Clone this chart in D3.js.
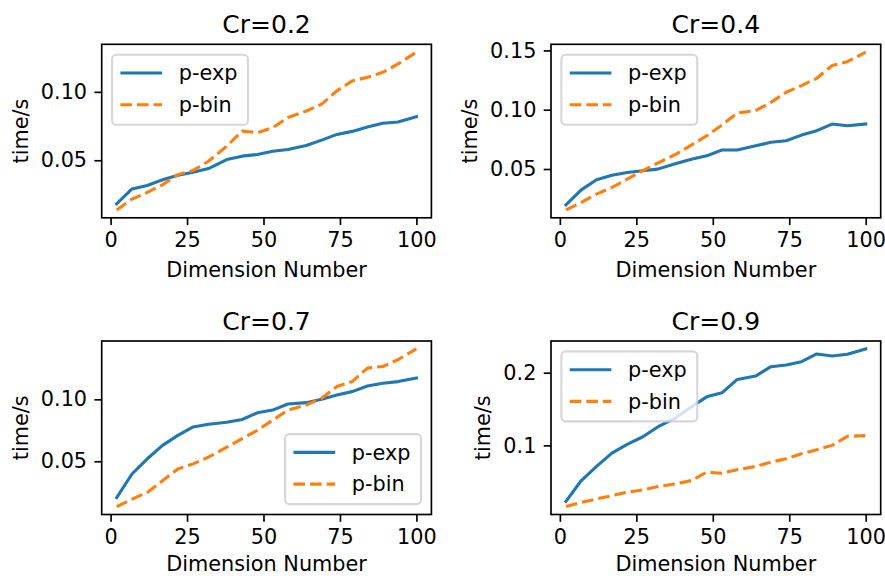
<!DOCTYPE html>
<html>
<head>
<meta charset="utf-8">
<script src="https://cdn.jsdelivr.net/npm/d3@7"></script>
<style>
body { margin: 0; background: #fff; }
text { font-family: "DejaVu Sans", sans-serif; fill: #000; }
</style>
</head>
<body>
<svg id="chart" width="885" height="576"></svg>
<script>
// dimension numbers along x
const dims = [2, 7, 12, 17, 22, 27, 32, 38, 43, 48, 53, 58, 64, 69, 74, 79, 84, 89, 94, 100];

// p-exp times per Cr
const expCr02 = [0.0182, 0.0290, 0.0316, 0.0358, 0.0390, 0.0412, 0.0439, 0.0505, 0.0530, 0.0542,
                 0.0566, 0.0579, 0.0608, 0.0647, 0.0689, 0.0711, 0.0743, 0.0770, 0.0780, 0.0819];
const expCr04 = [0.0198, 0.0324, 0.0409, 0.0448, 0.0471, 0.0485, 0.0499, 0.0547, 0.0583, 0.0611,
                 0.0660, 0.0660, 0.0696, 0.0725, 0.0738, 0.0786, 0.0823, 0.0879, 0.0865, 0.0879];
const expCr07 = [0.0207, 0.0397, 0.0520, 0.0628, 0.0709, 0.0777, 0.0799, 0.0815, 0.0837, 0.0891,
                 0.0913, 0.0962, 0.0973, 0.1000, 0.1035, 0.1062, 0.1108, 0.1130, 0.1143, 0.1171];
const expCr09 = [0.0230, 0.0516, 0.0710, 0.0893, 0.1014, 0.1115, 0.1253, 0.1383, 0.1530, 0.1668,
                 0.1723, 0.1908, 0.1954, 0.2083, 0.2106, 0.2152, 0.2258, 0.2231, 0.2254, 0.2328];

// p-bin times per Cr
const binCr02 = [0.0137, 0.0216, 0.0265, 0.0321, 0.0395, 0.0426, 0.0493, 0.0603, 0.0713, 0.0701,
                 0.0738, 0.0812, 0.0860, 0.0910, 0.1007, 0.1080, 0.1106, 0.1143, 0.1204, 0.1290];
const binCr04 = [0.0155, 0.0218, 0.0288, 0.0344, 0.0415, 0.0485, 0.0550, 0.0626, 0.0702, 0.0780,
                 0.0871, 0.0972, 0.0992, 0.1062, 0.1147, 0.1203, 0.1265, 0.1372, 0.1405, 0.1485];
const binCr07 = [0.0134, 0.0194, 0.0248, 0.0343, 0.0438, 0.0479, 0.0533, 0.0614, 0.0682, 0.0750,
                 0.0831, 0.0913, 0.0954, 0.1008, 0.1103, 0.1143, 0.1252, 0.1265, 0.1320, 0.1407];
const binCr09 = [0.0157, 0.0216, 0.0263, 0.0308, 0.0354, 0.0387, 0.0433, 0.0470, 0.0516, 0.0631,
                 0.0617, 0.0664, 0.0710, 0.0769, 0.0816, 0.0885, 0.0940, 0.1000, 0.1124, 0.1134];

const titles = ["Cr=0.2", "Cr=0.4", "Cr=0.7", "Cr=0.9"];
const seriesNames = ["p-exp", "p-bin"];
const xTicks = [0, 25, 50, 75, 100];
const yTicks = [[0.05, 0.10], [0.05, 0.10, 0.15], [0.05, 0.10], [0.1, 0.2]];
const yTickLabels = [["0.05", "0.10"], ["0.05", "0.10", "0.15"], ["0.05", "0.10"], ["0.1", "0.2"]];
const legendLoc = ["upper left", "upper left", "lower right", "upper left"];

const panels = [
  {exp: expCr02, bin: binCr02},
  {exp: expCr04, bin: binCr04},
  {exp: expCr07, bin: binCr07},
  {exp: expCr09, bin: binCr09}
];

const colors = ["#1f77b4", "#ff7f0e"];
const fs = 20.8;      // 10pt at 150 dpi
const lw = 3.1;
const tickLen = 7.3, tickPad = 7.3;
const colLeft = [101.7, 551], rowTop = [44.3, 341];
const W = 329.7, H = 173.5;

const svg = d3.select('#chart');

function pad(ext) {
  let m = (ext[1] - ext[0]) * 0.05;
  return [ext[0] - m, ext[1] + m];
}

panels.forEach(function(p, i) {
  let row = Math.floor(i / 2);
  let left = colLeft[i % 2], top = rowTop[row];
  let g = svg.append('g').attr('transform', 'translate(' + left + ',' + top + ')');

  let x = d3.scaleLinear().domain(pad(d3.extent(dims))).range([0, W]);
  let y = d3.scaleLinear().domain(pad(d3.extent(p.exp.concat(p.bin)))).range([H, 0]);

  // lines
  let line = d3.line().x((d, k) => x(dims[k])).y(d => y(d));
  [p.exp, p.bin].forEach(function(vals, s) {
    g.append('path')
      .attr('d', line(vals))
      .attr('fill', 'none')
      .attr('stroke', colors[s])
      .attr('stroke-width', lw)
      .attr('stroke-linejoin', 'round')
      .attr('stroke-linecap', s == 0 ? 'square' : 'butt')
      .attr('stroke-dasharray', s == 1 ? '11.6,5' : null);
  });

  // axes
  let xa = g.append('g').attr('transform', 'translate(0,' + H + ')')
    .call(d3.axisBottom(x).tickValues(xTicks).tickSize(tickLen).tickPadding(tickPad));
  let ya = g.append('g')
    .call(d3.axisLeft(y).tickValues(yTicks[i]).tickSize(tickLen).tickPadding(tickPad)
      .tickFormat((d, k) => yTickLabels[i][k]));
  [xa, ya].forEach(function(a) {
    a.select('.domain').remove();
    a.selectAll('line').attr('stroke', '#000').attr('stroke-width', 1.67);
    a.selectAll('text').style('font-family', '"DejaVu Sans", sans-serif').style('font-size', fs + 'px').attr('fill', '#000');
  });

  // spines
  g.append('rect').attr('width', W).attr('height', H)
    .attr('fill', 'none').attr('stroke', '#000').attr('stroke-width', 1.67);

  // title
  g.append('text').attr('x', W / 2).attr('y', -11.5)
    .attr('text-anchor', 'middle').style('font-size', '25px').text(titles[i]);

  // x label (bottom row nudged up so it stays inside the page)
  g.append('text').attr('x', W / 2).attr('y', H + (row == 1 ? 56.5 : 59.5))
    .attr('text-anchor', 'middle').style('font-size', fs + 'px').text('Dimension Number');

  // y label, left of the tick labels
  let bb = ya.node().getBBox();
  let yl = bb.x - 13.2;
  g.append('text').attr('transform', 'translate(' + yl + ',' + (H / 2) + ') rotate(-90)')
    .attr('text-anchor', 'middle').style('font-size', fs + 'px').text('time/s');

  // legend
  let lg = g.append('g');
  let box = lg.append('rect');
  let texts = seriesNames.map(function(name, s) {
    let cy = 18.3 + s * 31.7;
    lg.append('line')
      .attr('x1', 8.3).attr('x2', 50).attr('y1', cy).attr('y2', cy)
      .attr('stroke', colors[s]).attr('stroke-width', lw)
      .attr('stroke-dasharray', s == 1 ? '11.6,5' : null);
    return lg.append('text').attr('x', 66.7).attr('y', cy + 7.4)
      .style('font-size', fs + 'px').text(name);
  });
  let tw = d3.max(texts, t => t.node().getComputedTextLength());
  let bw = 66.7 + tw + 10.5, bh = 70;
  box.attr('width', bw).attr('height', bh).attr('rx', 4.2).attr('ry', 4.2)
    .attr('fill', '#fff').attr('fill-opacity', 0.8)
    .attr('stroke', '#cccccc').attr('stroke-opacity', 0.8).attr('stroke-width', 2.1);
  let lx = 10.4, ly = 10.4;
  if (legendLoc[i] == 'lower right') {
    lx = W - 10.4 - bw;
    ly = H - 10.4 - bh;
  }
  lg.attr('transform', 'translate(' + lx + ',' + ly + ')');
});
</script>
</body>
</html>
